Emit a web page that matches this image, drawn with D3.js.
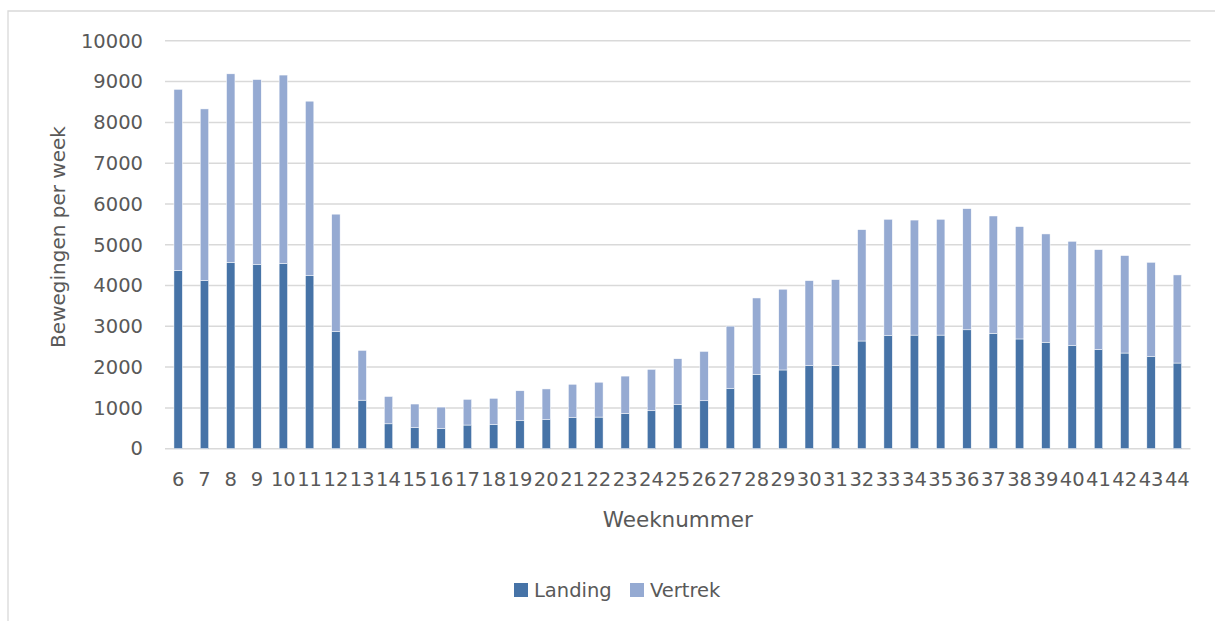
<!DOCTYPE html>
<html>
<head>
<meta charset="utf-8">
<script src="https://cdn.jsdelivr.net/npm/d3@7/dist/d3.min.js"></script>
<style>
  html, body { margin: 0; padding: 0; background: #fff; }
  svg { display: block; }
  text { font-family: "DejaVu Sans", sans-serif; fill: #595959; }
</style>
</head>
<body>
<svg id="chart" width="1215" height="621"></svg>
<script>
// Weekly aircraft movements, split into landings and departures
const weeks = [6,7,8,9,10,11,12,13,14,15,16,17,18,19,20,21,22,23,24,25,26,27,28,29,30,31,32,33,34,35,36,37,38,39,40,41,42,43,44];
const landing = [4370,4120,4570,4510,4540,4240,2870,1190,610,515,490,580,590,685,710,760,775,860,930,1080,1175,1470,1825,1930,2035,2045,2640,2770,2785,2785,2915,2830,2690,2610,2525,2430,2345,2255,2100];
const vertrek = [4440,4210,4620,4540,4620,4280,2880,1220,670,580,530,630,645,735,755,820,855,920,1015,1125,1210,1535,1870,1980,2085,2100,2730,2855,2820,2840,2970,2875,2755,2655,2560,2450,2390,2315,2160];
const yTicks = [0,1000,2000,3000,4000,5000,6000,7000,8000,9000,10000];
const seriesNames = ["Landing", "Vertrek"];
const seriesColors = ["#4673a7", "#95aad2"];

const svg = d3.select("#chart");
const plot = { left: 165, right: 1190.5, top: 40.8, bottom: 448.7 };

// chart frame (top and left edges)
svg.append("path")
  .attr("d", "M8,621V11H1215")
  .attr("fill", "none")
  .attr("stroke", "#d9d9d9")
  .attr("stroke-width", 1.3);

const x = d3.scaleBand()
  .domain(weeks)
  .range([plot.left, plot.right])
  .paddingInner(0.68)
  .paddingOuter(0.34);

const y = d3.scaleLinear()
  .domain([0, 10000])
  .range([plot.bottom, plot.top]);

// horizontal gridlines
svg.append("g")
  .selectAll("line")
  .data(yTicks)
  .join("line")
  .attr("x1", plot.left)
  .attr("x2", plot.right)
  .attr("y1", d => y(d))
  .attr("y2", d => y(d))
  .attr("stroke", "#d9d9d9")
  .attr("stroke-width", 1.5);

// y axis labels
const yAxis = d3.axisLeft(y).tickValues(yTicks).tickSize(0).tickPadding(0).tickFormat(d3.format("d"));
const yg = svg.append("g").attr("transform", `translate(143,0)`).call(yAxis);
yg.select(".domain").remove();
yg.selectAll("text").style("font-size", "19.5px").attr("fill", "#595959").attr("font-family", "DejaVu Sans");

// x axis labels
const xAxis = d3.axisBottom(x).tickSize(0).tickPadding(0);
const xg = svg.append("g").attr("transform", `translate(0,472)`).call(xAxis);
xg.select(".domain").remove();
xg.selectAll("text").style("font-size", "19.5px").attr("fill", "#595959").attr("font-family", "DejaVu Sans").attr("dy", "0.71em");

// stacked bars
const rows = weeks.map((w, i) => ({ week: w, Landing: landing[i], Vertrek: vertrek[i] }));
const stacked = d3.stack().keys(seriesNames)(rows);
const color = d3.scaleOrdinal().domain(seriesNames).range(seriesColors);

svg.append("g")
  .selectAll("g")
  .data(stacked)
  .join("g")
  .attr("fill", d => color(d.key))
  .selectAll("rect")
  .data(d => d)
  .join("rect")
  .attr("x", d => x(d.data.week))
  .attr("width", x.bandwidth())
  .attr("y", d => y(d[1]))
  .attr("height", d => y(d[0]) - y(d[1]))
  .attr("stroke", "#ffffff")
  .attr("stroke-width", 0.5);

// axis titles
svg.append("text")
  .attr("x", (plot.left + plot.right) / 2)
  .attr("y", 527)
  .attr("text-anchor", "middle")
  .style("font-size", "21.5px")
  .text("Weeknummer");

svg.append("text")
  .attr("transform", "translate(65,237) rotate(-90)")
  .attr("text-anchor", "middle")
  .style("font-size", "20px")
  .text("Bewegingen per week");

// legend
const legendItems = [
  { name: seriesNames[0], color: seriesColors[0], x: 514 },
  { name: seriesNames[1], color: seriesColors[1], x: 630 }
];
const lg = svg.append("g");
legendItems.forEach(item => {
  lg.append("rect")
    .attr("x", item.x).attr("y", 583)
    .attr("width", 14).attr("height", 14)
    .attr("fill", item.color);
  lg.append("text")
    .attr("x", item.x + 20).attr("y", 597)
    .style("font-size", "19.5px")
    .text(item.name);
});
</script>
</body>
</html>
